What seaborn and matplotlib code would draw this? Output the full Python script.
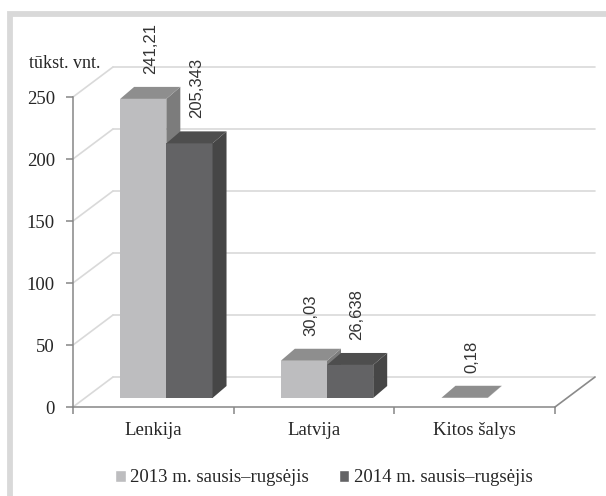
import pandas as pd
import seaborn as sns
import matplotlib.pyplot as plt
from matplotlib import transforms
from matplotlib.patches import Polygon, Rectangle, Patch

countries = ["Lenkija", "Latvija", "Kitos šalys"]
series = ["2013 m. sausis–rugsėjis", "2014 m. sausis–rugsėjis"]
values_2013 = [241.21, 30.03, 0.18]
values_2014 = [205.343, 26.638, None]
labels_2013 = ["241,21", "30,03", "0,18"]
labels_2014 = ["205,343", "26,638", ""]
yticks = [0, 50, 100, 150, 200, 250]

front_colors = ["#bdbdbf", "#636365"]
top_colors = ["#8e8e8e", "#4e4e4e"]
side_colors = ["#7c7c7c", "#464646"]

rows = []
for c, v in zip(countries, values_2013):
    rows.append({"country": c, "period": series[0], "value": v})
for c, v in zip(countries, values_2014):
    if v is not None:
        rows.append({"country": c, "period": series[1], "value": v})
df = pd.DataFrame(rows)

sns.set_style("white")
plt.rcParams['font.family'] = ['Liberation Serif', 'DejaVu Serif']

W, H = 606, 496
fig = plt.figure(figsize=(W / 100, H / 100), dpi=100)
ax = fig.add_axes([73 / W, 1 - 407 / H, (555 - 73) / W, (407 - 97) / H])
ax.patch.set_alpha(0)

sns.barplot(data=df, x="country", y="value", hue="period", order=countries,
            hue_order=series, palette=front_colors, saturation=1, width=0.575,
            errorbar=None, legend=False, ax=ax)
ax.set_xlim(-0.5, 2.5)
ax.set_ylim(0, 250)
ax.set_xlabel("")
ax.set_ylabel("")

ident = transforms.IdentityTransform()
bar_trans = ax.transData + transforms.ScaledTranslation(13 / 100, 9 / 100, fig.dpi_scale_trans)
back_trans = ax.transData + transforms.ScaledTranslation(40 / 100, 30 / 100, fig.dpi_scale_trans)
DX, DY = 14, 12

# back wall grid + floor
for t in yticks:
    ax.plot([-0.5, 2.5], [t, t], transform=back_trans, color="#d9d9d9", lw=1.2,
            zorder=0.5, clip_on=False)
    px, py = ax.transData.transform((-0.5, t))
    ax.plot([px, px + 40], [py, py + 30], transform=ident, color="#d9d9d9",
            lw=1.2, zorder=0.5, clip_on=False)
px, py = ax.transData.transform((2.5, 0))
ax.plot([px, px + 40], [py, py + 30], transform=ident, color="#8a8a8a",
        lw=1.2, zorder=0.6, clip_on=False)

# 3d faces on the bars
all_labels = [labels_2013, labels_2014]
for i, cont in enumerate(ax.containers):
    labs = [l for l in all_labels[i] if l]
    for bar, lab in zip(cont, labs):
        bar.set_transform(bar_trans)
        bar.set_edgecolor("none")
        bar.set_clip_on(False)
        bar.set_zorder(2 + i * 2)
        x0, w, h = bar.get_x(), bar.get_width(), bar.get_height()
        xa, ya = bar_trans.transform((x0, 0))
        xb, yb = bar_trans.transform((x0 + w, h))
        top = [(xa, yb), (xb, yb), (xb + DX, yb + DY), (xa + DX, yb + DY)]
        side = [(xb, ya), (xb, yb), (xb + DX, yb + DY), (xb + DX, ya + DY)]
        ax.add_patch(Polygon(side, closed=True, fc=side_colors[i], ec="none",
                             transform=ident, clip_on=False, zorder=2 + i * 2))
        ax.add_patch(Polygon(top, closed=True, fc=top_colors[i], ec="none",
                             transform=ident, clip_on=False, zorder=2.5 + i * 2))
        ax.text((xa + xb) / 2 + DX / 2, yb + DY + 13, lab, transform=ident,
                rotation=90, ha="center", va="bottom", fontsize=12,
                family=["Liberation Sans", "DejaVu Sans"], color="#333333")

sns.despine(ax=ax, top=True, right=True)
for s in ["left", "bottom"]:
    ax.spines[s].set_color("#868686")
    ax.spines[s].set_linewidth(1.1)
ax.set_yticks(yticks)
ax.set_xticks([0, 1, 2])
ax.set_xticklabels(countries)
ax.set_xticks([-0.5, 0.5, 1.5, 2.5], minor=True)
ax.tick_params(axis="y", length=5, width=1.1, color="#868686", pad=8,
               labelsize=13.5, labelcolor="#262626", left=True)
ax.tick_params(axis="x", which="major", length=0, pad=11, labelsize=13.5,
               labelcolor="#262626")
ax.tick_params(axis="x", which="minor", length=5, width=1.1, color="#868686",
               bottom=True)

fig.text(29 / W, 1 - 63 / H, "tūkst. vnt.", ha="left", va="center",
         fontsize=13, color="#262626")

handles = [Patch(fc=front_colors[0]), Patch(fc=front_colors[1])]
fig.legend(handles, series, loc="center", bbox_to_anchor=(324 / W, 1 - 478 / H),
           ncol=2, frameon=False, fontsize=13.5, handlelength=0.55,
           handleheight=0.55, handletextpad=0.25, columnspacing=1.6,
           labelcolor="#262626")

# outer frame
fig.add_artist(Rectangle((9.5, -20), 700, H - 14 + 20, transform=ident,
                         fill=False, ec="#d9d9d9", lw=4.2))

fig.savefig("out.png", dpi=100)
